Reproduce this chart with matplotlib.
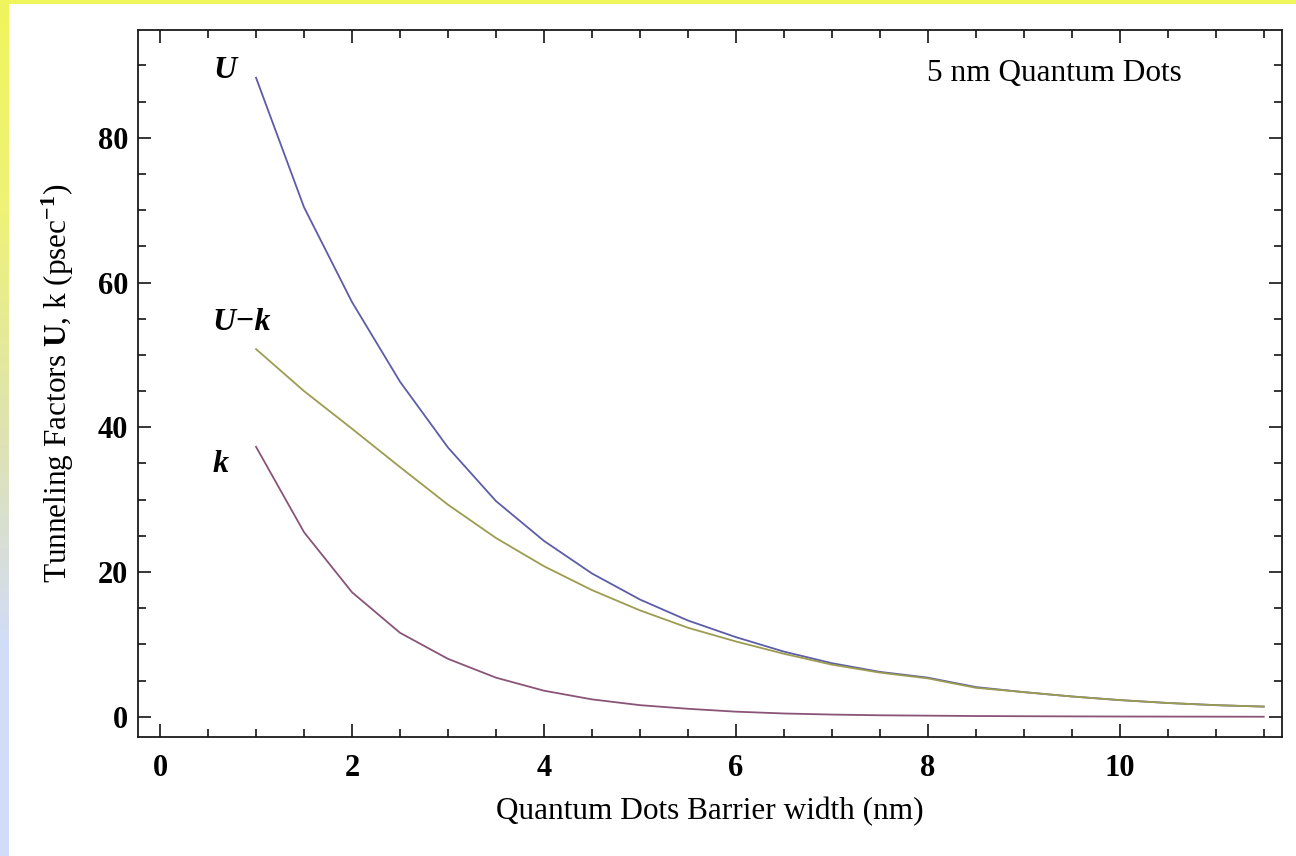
import numpy as np
import matplotlib
matplotlib.use("Agg")
import matplotlib.pyplot as plt
from matplotlib.patches import Rectangle
from matplotlib.colors import LinearSegmentedColormap

# Datos
barrier_nm = [1.0, 1.5, 2.0, 2.5, 3.0, 3.5, 4.0, 4.5, 5.0, 5.5, 6.0,
              6.5, 7.0, 7.5, 8.0, 8.5, 9.0, 9.5, 10.0, 10.5, 11.0, 11.5]
U_vals = [88.3, 70.4, 57.3, 46.3, 37.2, 29.8, 24.3, 19.8, 16.2, 13.3, 11.0,
          9.0, 7.4, 6.2, 5.4, 4.1, 3.4, 2.8, 2.3, 1.9, 1.6, 1.4]
Uk_vals = [50.8, 45.0, 39.8, 34.5, 29.3, 24.7, 20.8, 17.5, 14.7, 12.3, 10.4,
           8.7, 7.2, 6.1, 5.3, 4.0, 3.4, 2.8, 2.3, 1.9, 1.6, 1.4]
k_vals = [37.3, 25.5, 17.2, 11.6, 8.0, 5.4, 3.6, 2.4, 1.6, 1.1, 0.7,
          0.45, 0.3, 0.2, 0.15, 0.1, 0.07, 0.05, 0.03, 0.02, 0.01, 0.0]

x_ticks = [0, 2, 4, 6, 8, 10]
y_ticks = [0, 20, 40, 60, 80]

serif = "Liberation Serif"
plt.rcParams["font.family"] = serif
plt.rcParams["mathtext.fontset"] = "custom"
plt.rcParams["mathtext.rm"] = serif
plt.rcParams["mathtext.bf"] = serif + ":bold"
plt.rcParams["mathtext.it"] = serif + ":italic"

fig = plt.figure(figsize=(12.96, 8.56), dpi=100)

# Fondo: franja degradada a la izquierda y franja amarilla arriba
bg = fig.add_axes([0, 0, 1, 1], zorder=-10)
grad = LinearSegmentedColormap.from_list(
    "bg", ["#f0f55c", "#eef278", "#dfe3b0", "#d2dcf6", "#d0dcfa"])
bg.imshow(np.linspace(0, 1, 256).reshape(-1, 1), aspect="auto", cmap=grad,
          extent=[0, 1, 0, 1], origin="upper")
bg.add_patch(Rectangle((0, 1), 1, -4 / 856, color="#f0f55c", lw=0))
bg.add_patch(Rectangle((9 / 1296, 0), 1, 1 - 4 / 856, color="white", lw=0))
bg.set_xlim(0, 1)
bg.set_ylim(0, 1)
bg.axis("off")

ax = fig.add_axes([138 / 1296, 1 - 737 / 856, 1144 / 1296, 707 / 856])
ax.patch.set_alpha(0)

ax.plot(barrier_nm, U_vals, color="#5c5ca8", lw=1.3)
ax.plot(barrier_nm, Uk_vals, color="#9c9c50", lw=1.3)
ax.plot(barrier_nm, k_vals, color="#8a5478", lw=1.3)

ax.set_xlim(-0.23, 11.69)
ax.set_ylim(-2.8, 94.9)
ax.set_xticks(x_ticks)
ax.set_yticks(y_ticks)
ax.set_xticks(np.arange(0, 11.6, 0.5), minor=True)
ax.set_yticks(np.arange(0, 95, 5), minor=True)
ax.tick_params(which="both", direction="in", top=True, right=True, width=1.1)
ax.tick_params(which="major", length=9.5, labelsize=22)
ax.tick_params(which="minor", length=6)
ax.tick_params(axis="x", which="major", pad=12)
ax.tick_params(axis="y", which="major", pad=7)
for lab in ax.get_xticklabels() + ax.get_yticklabels():
    lab.set_fontweight("bold")
for s in ax.spines.values():
    s.set_linewidth(1.3)
    s.set_color("#1a1a1a")

ax.set_xlabel("Quantum Dots Barrier width (nm)", fontsize=22.5, labelpad=10)
ax.set_ylabel(r"Tunneling Factors $\mathbf{U}$, $\mathrm{k}$ (psec$^{\mathbf{-1}}$)",
              fontsize=22.5, labelpad=16)

ax.text(0.69, 0.939, "5 nm Quantum Dots", transform=ax.transAxes,
        fontsize=22.5, ha="left", va="center")
ax.text(0.076, 0.943, "U", transform=ax.transAxes, fontsize=23,
        fontweight="bold", style="italic", ha="center", va="center")
ax.text(0.091, 0.586, "U\u2212k", transform=ax.transAxes, fontsize=23,
        fontweight="bold", style="italic", ha="center", va="center")
ax.text(0.072, 0.385, "k", transform=ax.transAxes, fontsize=23,
        fontweight="bold", style="italic", ha="center", va="center")

fig.savefig("out.png", dpi=100)
